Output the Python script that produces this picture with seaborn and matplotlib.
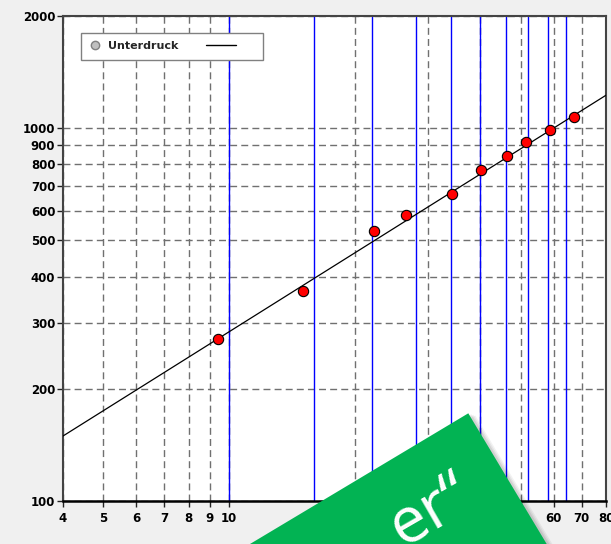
import numpy as np
import pandas as pd
import matplotlib
matplotlib.use("Agg")
import matplotlib.pyplot as plt
import seaborn as sns
from matplotlib.ticker import NullLocator
from matplotlib.patches import Polygon
from matplotlib.lines import Line2D
from matplotlib.legend_handler import HandlerLine2D

# ---- data ----
series_name = "Unterdruck"
x_vals = [9.4, 15.0, 22.3, 26.6, 34.2, 40.1, 46.3, 51.5, 58.8, 67.2]
y_vals = [272, 366, 530, 585, 667, 771, 842, 917, 987, 1070]
fit_x = [4, 80]
fit_y = [149.4, 1226]
blue_x = [10, 16, 22, 28, 34, 40, 46, 52, 58, 64]
x_ticks = [4, 5, 6, 7, 8, 9, 10, 20, 30, 40, 50, 60, 70, 80]
y_ticks = [100, 200, 300, 400, 500, 600, 700, 800, 900, 1000, 2000]
banner_text = "er\u201c"

W, H = 611, 544
sns.set_theme(style="white")
plt.rcParams["font.family"] = ["DejaVu Sans"]

fig = plt.figure(figsize=(W / 100, H / 100), dpi=100, facecolor="#f0f0f0")
ax = fig.add_axes([63 / W, 43 / H, 543 / W, 485 / H])
ax.set_facecolor("white")
ax.set_xscale("log")
ax.set_yscale("log")

df_pts = pd.DataFrame({"x": x_vals, "y": y_vals})
df_fit = pd.DataFrame({"x": fit_x, "y": fit_y})

# grid
ax.set_axisbelow(True)
ax.grid(True, which="major", color="#707070", linestyle=(0, (5, 3)), linewidth=1)

for bx in blue_x:
    ax.axvline(bx, color="#0000ff", lw=1, zorder=1.5)

sns.lineplot(data=df_fit, x="x", y="y", color="black", lw=0.9, ax=ax, zorder=3)
sns.scatterplot(data=df_pts, x="x", y="y", color="red", s=55, edgecolor="black",
                linewidth=0.8, ax=ax, zorder=4)

ax.set_xlim(4, 80)
ax.set_ylim(100, 2000)
ax.set_xticks(x_ticks)
ax.set_xticklabels([str(v) for v in x_ticks], fontweight="bold", fontsize=8.5)
ax.set_yticks(y_ticks)
ax.set_yticklabels([str(v) for v in y_ticks], fontweight="bold", fontsize=8.5)
ax.xaxis.set_minor_locator(NullLocator())
ax.yaxis.set_minor_locator(NullLocator())
ax.set_xlabel("")
ax.set_ylabel("")
ax.tick_params(axis="both", which="major", direction="out", length=4, width=1,
               color="#222222", labelcolor="black")
ax.tick_params(axis="x", pad=4)
ax.tick_params(axis="y", pad=1.5)
ax.tick_params(left=True, bottom=True)

for side in ["top", "right", "left"]:
    ax.spines[side].set_color("#444444")
    ax.spines[side].set_linewidth(1.5)
ax.spines["bottom"].set_color("black")
ax.spines["bottom"].set_linewidth(1.8)

# legend: marker, label, then line
h_marker = Line2D([], [], marker="o", linestyle="none", markersize=6,
                  markerfacecolor="#c0c0c0", markeredgecolor="#808080")
h_line = Line2D([], [], color="black", lw=1)
leg = ax.legend(handles=[h_marker, h_line], labels=[series_name, "   "], ncol=2,
                loc="upper left", bbox_to_anchor=(81 / W, 1 - 33 / H),
                bbox_transform=fig.transFigure, borderaxespad=0,
                prop={"weight": "bold", "size": 8}, handlelength=1.0,
                handletextpad=0.67, columnspacing=4.2, borderpad=0.75,
                frameon=True, fancybox=False, edgecolor="#808080", framealpha=1,
                handler_map={h_line: HandlerLine2D(xpad=-1.7)})
leg.get_frame().set_linewidth(1)

# green banner overlay
T = np.array([468.3, H - 413.3])
d1 = np.array([-218.3, -130.7])
d2 = np.array([78.4, -130.7])
pts = np.array([T, T + 1.6 * d1, T + 1.6 * d1 + 1.6 * d2, T + 1.6 * d2])
for off, a in [(7, 0.05), (5, 0.06), (3, 0.08)]:
    sh = pts + np.array([off, -off * 0.3])
    fig.add_artist(Polygon(sh / [W, H], closed=True, transform=fig.transFigure,
                           facecolor="black", edgecolor="none", alpha=a, zorder=9))
fig.add_artist(Polygon(pts / [W, H], closed=True, transform=fig.transFigure,
                       facecolor="#02b353", edgecolor="none", zorder=10))
fig.text(475 / W, 40 / H, banner_text, rotation=30, rotation_mode="anchor",
         ha="right", va="baseline", color="white", fontsize=46,
         family=["Open Sans", "DejaVu Sans"], zorder=12)

fig.savefig("out.png", dpi=100, facecolor=fig.get_facecolor())
